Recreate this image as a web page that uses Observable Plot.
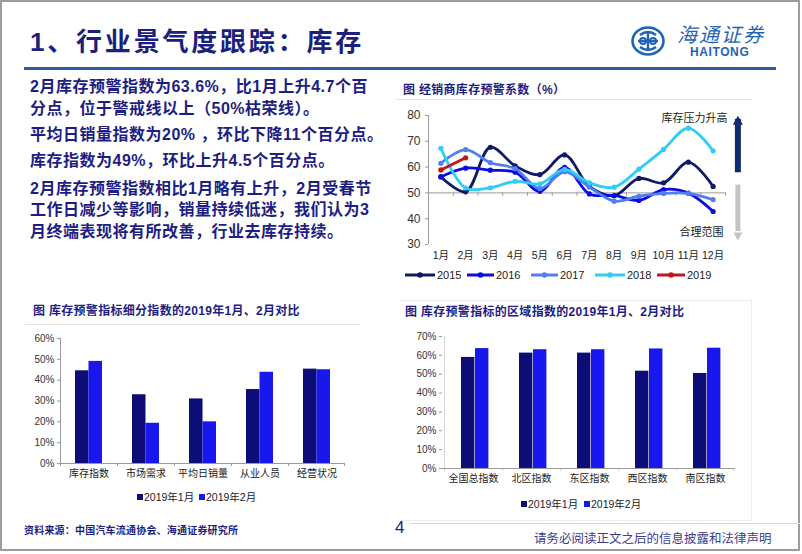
<!DOCTYPE html>
<html><head><meta charset="utf-8">
<script src="https://cdn.jsdelivr.net/npm/d3@7"></script>
<script src="https://cdn.jsdelivr.net/npm/@observablehq/plot@0.6"></script>
<style>
body{margin:0;background:#fff;}
#slide{position:relative;width:802px;height:554px;overflow:hidden;background:#fff;font-family:"Liberation Sans","Noto Sans CJK SC",sans-serif;}
.abs{position:absolute;white-space:nowrap;}
.para{font-size:16px;font-weight:bold;color:#1d1d82;line-height:21.5px;letter-spacing:0.5px;}
.ctitle{font-size:12px;font-weight:bold;color:#1d1d82;letter-spacing:0.3px;line-height:14px;}
.hr{position:absolute;height:1px;background:#e2e2e2;}
.leg{position:absolute;font-size:10.5px;color:#222;line-height:12px;white-space:nowrap;}
.sq{display:inline-block;width:6px;height:6px;margin-right:1px;vertical-align:1px;}
</style></head><body><div id="slide">
<div class="abs" style="left:0;top:0;width:800px;height:551px;border:2px solid #9c9c9c;box-sizing:border-box;"></div>
<div class="abs" style="left:30px;top:28px;font-size:26px;line-height:28px;font-weight:bold;color:#1b1f7d;letter-spacing:2.8px;">1、行业景气度跟踪：库存</div>
<div class="abs" style="left:24px;top:67px;width:752px;height:2.5px;background:#2d5da6;"></div>
<svg class="abs" style="left:631px;top:26px" width="34" height="30" viewBox="0 0 34 30">
  <ellipse cx="17" cy="15" rx="15.5" ry="13.5" fill="none" stroke="#1f63b3" stroke-width="2.6"/>
  <path d="M9 9 q8 -6 16 0 M9 21 q8 6 16 0 M17 5 v20 M7 15 h20" fill="none" stroke="#1f63b3" stroke-width="2.4"/>
  <circle cx="12" cy="15" r="3" fill="none" stroke="#1f63b3" stroke-width="2"/>
  <circle cx="22" cy="15" r="3" fill="none" stroke="#1f63b3" stroke-width="2"/>
</svg>
<div class="abs" style="left:677px;top:25px;font-size:20px;line-height:20px;color:#1f63b3;font-style:italic;letter-spacing:2px;">海通证券</div>
<div class="abs" style="left:690px;top:46px;font-size:12px;line-height:12px;font-weight:bold;color:#1f63b3;letter-spacing:0.6px;">HAITONG</div>

<div class="abs para" style="left:30px;top:76px">2月库存预警指数为63.6%，比1月上升4.7个百<br>分点，位于警戒线以上（50%枯荣线）。</div>
<div class="abs para" style="left:30px;top:124px">平均日销量指数为20% ，环比下降11个百分点。</div>
<div class="abs para" style="left:30px;top:150px">库存指数为49%，环比上升4.5个百分点。</div>
<div class="abs para" style="left:30px;top:177.5px">2月库存预警指数相比1月略有上升，2月受春节<br>工作日减少等影响，销量持续低迷，我们认为3<br>月终端表现将有所改善，行业去库存持续。</div>

<div class="abs ctitle" style="left:403px;top:83px">图 经销商库存预警系数（%）</div>
<div class="hr" style="left:395px;top:99px;width:357px;"></div>
<div id="lc" class="abs" style="left:395px;top:105px"></div>
<div id="lcleg"></div>

<div class="abs ctitle" style="left:33px;top:304px">图 库存预警指标细分指数的2019年1月、2月对比</div>
<div class="hr" style="left:25px;top:324px;width:335px;"></div>
<div id="bc1" class="abs" style="left:15px;top:330px"></div>
<div id="bc1leg"></div>

<div class="hr" style="left:400px;top:300px;width:352px;background:#ececec"></div>
<div class="abs" style="left:751px;top:300px;width:1px;height:220px;background:#ececec"></div>
<div class="hr" style="left:400px;top:520px;width:352px;background:#ececec"></div>
<div class="abs ctitle" style="left:405px;top:305px">图 库存预警指标的区域指数的2019年1月、2月对比</div>
<div id="bc2" class="abs" style="left:400px;top:325px"></div>
<div id="bc2leg"></div>

<div class="abs" style="left:24px;top:525px;font-size:10px;line-height:12px;font-weight:bold;color:#1d1d82;letter-spacing:0.2px;">资料来源：中国汽车流通协会、海通证券研究所</div>
<div class="abs" style="left:395px;top:519px;font-size:17px;line-height:18px;color:#1d1d82;">4</div>
<div class="hr" style="left:410px;top:523px;width:390px;background:#d8d8d8"></div>
<div class="abs" style="left:534px;top:532px;font-size:12.5px;line-height:15px;color:#3d3d90;letter-spacing:0px;">请务必阅读正文之后的信息披露和法律声明</div>
</div>
<script>
// ---------- data: line chart ----------
const months = [1,2,3,4,5,6,7,8,9,10,11,12];
const monthLabels = ["1月","2月","3月","4月","5月","6月","7月","8月","9月","10月","11月","12月"];
const years = ["2015","2016","2017","2018","2019"];
const v2015 = [56.3, 50.4, 67.7, 60.5, 57.1, 64.7, 52.5, 48.9, 55.6, 53.9, 61.9, 52.5];
const v2016 = [56.2, 59.6, 58.8, 58.0, 50.6, 59.9, 49.6, 49.0, 47.1, 51.3, 49.9, 42.8];
const v2017 = [61.5, 66.8, 61.7, 59.4, 51.7, 58.2, 52.3, 46.8, 48.7, 49.8, 49.8, 47.4];
const v2018 = [67.3, 51.9, 52.0, 54.5, 53.5, 59.1, 53.9, 52.2, 59.2, 66.9, 75.1, 66.3];
const v2019 = [58.9, 63.6];
const yearColors = ["#0e1b66", "#0b0be6", "#4f7ff0", "#30cdf4", "#c0161e"];
const lineYTicks = [30, 40, 50, 60, 70, 80];
const catBounds = [1.5, 2.5, 3.5, 4.5, 5.5, 6.5, 7.5, 8.5, 9.5, 10.5, 11.5, 12.5];
const annotTexts = [{x: 11.25, y: 79.0, text: "库存压力升高"}, {x: 11.53, y: 34.6, text: "合理范围"}];
const arrowUp = [{x: 13, y1: 57.8, y2: 78.5, head: 77.6}];
const arrowDown = [{x: 13, y1: 53.0, y2: 35.0, head: 33.6}];

// ---------- data: bar chart 1 ----------
const indCats = ["库存指数", "市场需求", "平均日销量", "从业人员", "经营状况"];
const indJan = [0.445, 0.330, 0.310, 0.355, 0.453];
const indFeb = [0.490, 0.193, 0.200, 0.438, 0.450];
// ---------- data: bar chart 2 ----------
const regCats = ["全国总指数", "北区指数", "东区指数", "西区指数", "南区指数"];
const regJan = [0.589, 0.612, 0.612, 0.516, 0.504];
const regFeb = [0.636, 0.630, 0.630, 0.634, 0.638];
const seriesNames = ["2019年1月", "2019年2月"];
const barColors = ["#0d0d78", "#1818ee"];
const pctTicks1 = [0, 0.1, 0.2, 0.3, 0.4, 0.5, 0.6];
const pctTicks2 = [0, 0.1, 0.2, 0.3, 0.4, 0.5, 0.6, 0.7];

const FONT = '"Liberation Sans","Noto Sans CJK SC",sans-serif';
const AX = "#9a9a9a";

function greyTicks(svg, axis) {
  const s = d3.select(svg);
  s.selectAll(`g[aria-label="${axis}-axis tick"]`).attr("stroke", AX);
  s.selectAll(`g[aria-label="${axis}-axis"] line, g[aria-label="${axis}-axis"] path`).attr("stroke", AX);
}
function setFont(svg, axis, size, color) {
  d3.select(svg).selectAll(`[aria-label^="${axis}-axis"] text`).attr("font-size", size).attr("fill", color);
}

// ---------- line chart ----------
const allSeries = [v2015, v2016, v2017, v2018, v2019];
const lineData = years.flatMap((y, i) => allSeries[i].map((v, j) => ({year: y, month: months[j], value: v})));

const upHead = {draw(ctx, size) { const r = Math.sqrt(size / Math.PI); ctx.moveTo(0, -r * 1.2); ctx.lineTo(r, r * 0.6); ctx.lineTo(-r, r * 0.6); ctx.closePath(); }};
const downHead = {draw(ctx, size) { const r = Math.sqrt(size / Math.PI); ctx.moveTo(0, r * 1.2); ctx.lineTo(r, -r * 0.6); ctx.lineTo(-r, -r * 0.6); ctx.closePath(); }};

const lc = Plot.plot({
  width: 355, height: 163, marginLeft: 33, marginRight: 25, marginTop: 10, marginBottom: 24,
  style: {fontFamily: FONT, fontSize: "12px", color: "#333", background: "transparent", overflow: "visible"},
  x: {type: "linear", domain: [0.5, 12.5], ticks: months, tickFormat: d => monthLabels[d - 1], tickSize: 0, tickPadding: 7, label: null},
  y: {domain: [30, 80], ticks: lineYTicks, tickSize: 3, tickPadding: 5, label: null},
  color: {domain: years, range: yearColors},
  marks: [
    Plot.ruleX([0.5], {y1: 30, y2: 80, stroke: AX}),
    Plot.ruleY([50], {stroke: AX}),
    Plot.ruleX(catBounds, {x: d => d, y1: 50, y2: 48.7, stroke: AX}),
    Plot.line(lineData, {x: "month", y: "value", z: "year", stroke: "year", strokeWidth: 2.8, curve: "catmull-rom"}),
    Plot.dot(lineData, {x: "month", y: "value", fill: "year", r: 2.6}),
    Plot.text(annotTexts, {x: "x", y: "y", text: "text", fontSize: 11, fill: "#222"}),
    Plot.ruleX(arrowUp, {x: "x", y1: "y1", y2: "y2", stroke: "#0f2a6e", strokeWidth: 6}),
    Plot.dot(arrowUp, {x: "x", y: "head", r: 5, symbol: upHead, fill: "#0f2a6e", stroke: "none"}),
    Plot.ruleX(arrowDown, {x: "x", y1: "y1", y2: "y2", stroke: "#c4c4c4", strokeWidth: 5}),
    Plot.dot(arrowDown, {x: "x", y: "head", r: 4.5, symbol: downHead, fill: "#c4c4c4", stroke: "none"})
  ]
});
greyTicks(lc, "y");
setFont(lc, "x", 10.5, "#222");
setFont(lc, "y", 12, "#333");
document.getElementById("lc").append(lc);

// line legend
const lcLegPos = [[405, 437], [467, 496], [531, 560], [595, 627], [657, 687]];
const lcleg = document.getElementById("lcleg");
years.forEach((y, i) => {
  const [sx, tx] = lcLegPos[i];
  const w = tx - sx - 2;
  const sw = document.createElementNS("http://www.w3.org/2000/svg", "svg");
  sw.setAttribute("width", w); sw.setAttribute("height", 8);
  sw.setAttribute("style", `position:absolute;left:${sx}px;top:271px`);
  sw.innerHTML = `<line x1="0" y1="4" x2="${w}" y2="4" stroke="${yearColors[i]}" stroke-width="3"/><circle cx="${w/2}" cy="4" r="2.8" fill="${yearColors[i]}"/>`;
  lcleg.append(sw);
  const t = document.createElement("div");
  t.className = "leg"; t.style.left = tx + "px"; t.style.top = "269px"; t.style.fontSize = "11px";
  t.textContent = y;
  lcleg.append(t);
});

// ---------- bar charts ----------
function barChart(cats, jan, feb, opts) {
  const data = cats.map((c, i) => ({cat: c, jan: jan[i], feb: feb[i]}));
  const bw = (opts.width - opts.marginLeft) / cats.length;
  const svg = Plot.plot({
    width: opts.width, height: opts.height, marginLeft: opts.marginLeft, marginRight: 0,
    marginTop: opts.marginTop, marginBottom: opts.marginBottom,
    style: {fontFamily: FONT, fontSize: "10px", color: "#333", background: "transparent", overflow: "visible"},
    x: {domain: cats, padding: 0, tickSize: 0, tickPadding: opts.tickPad, label: null},
    y: {domain: opts.domain, ticks: opts.ticks, tickFormat: d3.format(".0%"), tickSize: 3, tickPadding: 3, label: null},
    marks: [
      Plot.barY(data, {x: "cat", y: "jan", fill: barColors[0], insetLeft: opts.j[0], insetRight: opts.j[1]}),
      Plot.barY(data, {x: "cat", y: "feb", fill: barColors[1], insetLeft: opts.f[0], insetRight: opts.f[1]}),
      Plot.ruleY([0], {stroke: AX}),
      // y axis line at left edge of first band
      Plot.barY([cats[0]], {x: d => d, y1: 0, y2: opts.domain[1], fill: AX, insetLeft: 0, insetRight: bw - 1}),
      // category boundary ticks
      Plot.barY(cats, {x: d => d, y1: 0, y2: -opts.domain[1] * 0.024, fill: AX, insetLeft: 0, insetRight: bw - 1}),
      Plot.barY([cats[cats.length - 1]], {x: d => d, y1: 0, y2: -opts.domain[1] * 0.024, fill: AX, insetLeft: bw - 1, insetRight: 0})
    ]
  });
  greyTicks(svg, "y");
  setFont(svg, "x", 10, "#222");
  setFont(svg, "y", 10, "#333");
  return svg;
}
document.getElementById("bc1").append(barChart(indCats, indJan, indFeb, {
  width: 330, height: 153, marginLeft: 45, marginTop: 8, marginBottom: 20, tickPad: 6,
  domain: [0, 0.6], ticks: pctTicks1, j: [15, 28.5], f: [28.5, 15]
}));
document.getElementById("bc2").append(barChart(regCats, regJan, regFeb, {
  width: 335, height: 165, marginLeft: 42, marginTop: 11, marginBottom: 22, tickPad: 6,
  domain: [0, 0.7], ticks: pctTicks2, j: [17, 27.6], f: [31, 13.6]
}));

function barLegend(el, pos, top) {
  const root = document.getElementById(el);
  seriesNames.forEach((n, i) => {
    const d = document.createElement("div");
    d.className = "leg"; d.style.left = pos[i] + "px"; d.style.top = top + "px";
    d.innerHTML = `<span class="sq" style="background:${barColors[i]}"></span>`;
    d.append(document.createTextNode(n));
    root.append(d);
  });
}
barLegend("bc1leg", [137, 199], 491);
barLegend("bc2leg", [521, 584], 498);
</script>
</body></html>
